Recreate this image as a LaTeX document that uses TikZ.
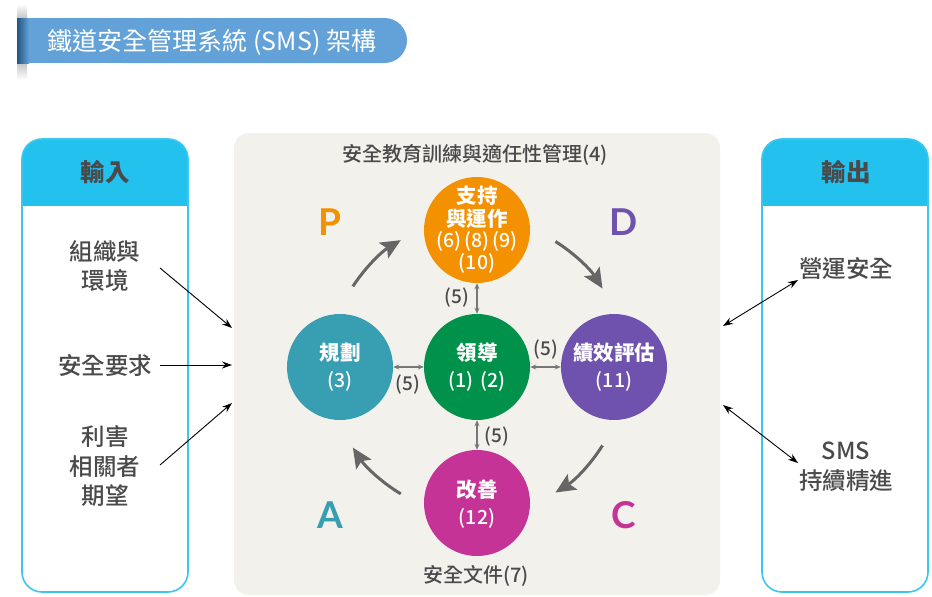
\documentclass[tikz,border=0pt]{standalone}
\usepackage{fontspec}
\setmainfont{Noto Sans CJK TC}
\newfontfamily\cjkmed{Noto Sans CJK TC Medium}
\newfontfamily\latinbold{Lato}
\usetikzlibrary{arrows.meta,calc}
\definecolor{txtgray}{HTML}{4A4A4A}
\definecolor{titleblue}{HTML}{62A2D9}
\definecolor{shadowblue}{HTML}{24557F}
\definecolor{hdrcyan}{HTML}{22C1EE}
\definecolor{brdcyan}{HTML}{3CC6EE}
\definecolor{panelgray}{HTML}{F2F1EC}
\definecolor{corange}{HTML}{F39100}
\definecolor{cteal}{HTML}{389EB2}
\definecolor{cgreen}{HTML}{00924A}
\definecolor{cpurple}{HTML}{6F52AD}
\definecolor{cmagenta}{HTML}{C53397}
\definecolor{arrgray}{HTML}{666666}
\definecolor{smallgray}{HTML}{777777}
\tikzset{
  circ/.style={circle,minimum size=106pt,inner sep=0pt},
  circtxt/.style={text=white,font=\bfseries\fontsize{20.5}{22}\selectfont,inner sep=0pt},
  circnum/.style={text=white,font=\cjkmed\fontsize{19.5}{22}\selectfont,inner sep=0pt},
  lbl/.style={text=txtgray,font=\cjkmed\fontsize{23.5}{29.5}\selectfont,align=center,inner sep=0pt},
  hdr/.style={text=txtgray,font=\bfseries\fontsize{24.5}{26}\selectfont,inner sep=0pt},
  five/.style={text=txtgray,font=\cjkmed\fontsize{19}{20}\selectfont,inner sep=0pt},
  pdca/.style={font=\latinbold\bfseries\fontsize{37}{37}\selectfont,inner sep=0pt},
  bigarr/.style={draw=arrgray,line width=3pt,-{Stealth[length=20pt,width=18pt,inset=4pt]}},
  smallarr/.style={draw=smallgray,line width=1.3pt,{Stealth[length=6pt,width=5pt]}-{Stealth[length=6pt,width=5pt]}},
  ioarr/.style={draw=black,line width=0.9pt,-{Stealth[length=10pt,width=7pt]}},
  ioarr2/.style={draw=black,line width=0.9pt,{Stealth[length=10pt,width=7pt]}-{Stealth[length=10pt,width=7pt]}}
}
\begin{document}
\begin{tikzpicture}[x=1pt,y=-1pt]
\useasboundingbox (0,0) rectangle (932,597);
\fill[white] (0,0) rectangle (932,597);

% title banner
\shade[top color=white,bottom color=gray!45] (17,4) rectangle (27,18);
\shade[top color=gray!45,bottom color=white] (17,63) rectangle (27,80);
\fill[titleblue] (17,18) rectangle (200,63);
\fill[titleblue,rounded corners=22.5pt] (100,18) rectangle (407,63);
\shade[left color=shadowblue,right color=titleblue] (17,18) rectangle (29,63);
\node[text=white,font=\fontsize{25}{26}\selectfont,inner sep=0pt] (title) at (212,42) {鐵道安全管理系統 (SMS) 架構};

% central panel
\node[fill=panelgray,rounded corners=15pt,minimum width=486pt,minimum height=462pt,inner sep=0pt] (panel) at (477,364) {};
\node[text=txtgray,font=\cjkmed\fontsize{20}{22}\selectfont,inner sep=0pt] (train) at (475,155) {安全教育訓練與適任性管理(4)};
\node[text=txtgray,font=\cjkmed\fontsize{20}{22}\selectfont,inner sep=0pt] (docs) at (476,576) {安全文件(7)};

% circles
\node[circ,fill=corange] (sup) at (477,230) {};
\node[circ,fill=cteal] (plan) at (340,367) {};
\node[circ,fill=cgreen] (lead) at (477,367) {};
\node[circ,fill=cpurple] (perf) at (614,367) {};
\node[circ,fill=cmagenta] (imp) at (477,503) {};

\node[circtxt] (supa) at (477,196) {支持};
\node[circtxt] (supb) at (477,219) {與運作};
\node[circnum] (supc) at (477,241) {(6)\,(8)\,(9)};
\node[circnum] (supd) at (477,263) {(10)};
\node[circtxt] (plana) at (340,353) {規劃};
\node[circnum] (planb) at (340,381) {(3)};
\node[circtxt] (leada) at (477,353) {領導};
\node[circnum] (leadb) at (477,381) {(1)\,\,(2)};
\node[circtxt] (perfa) at (614,353) {績效評估};
\node[circnum] (perfb) at (614,381) {(11)};
\node[circtxt] (impa) at (477,490) {改善};
\node[circnum] (impb) at (477,518) {(12)};

% small (5) arrows
\draw[smallarr] (sup.south) -- (lead.north);
\draw[smallarr] (plan.east) -- (lead.west);
\draw[smallarr] (lead.east) -- (perf.west);
\draw[smallarr] (lead.south) -- (imp.north);
\node[five] (f1) at (457,298) {(5)};
\node[five] (f2) at (408,385) {(5)};
\node[five] (f3) at (546,350) {(5)};
\node[five] (f4) at (497,437) {(5)};

% PDCA curved arrows
\coordinate (cc) at (477,367);
\draw[bigarr] ([shift={(-147:148)}]cc) arc[start angle=-147,end angle=-121,radius=148];
\draw[bigarr] ([shift={(-58:148)}]cc) arc[start angle=-58,end angle=-32,radius=148];
\draw[bigarr] ([shift={(32:148)}]cc) arc[start angle=32,end angle=58,radius=148];
\draw[bigarr] ([shift={(121:148)}]cc) arc[start angle=121,end angle=147,radius=148];

\node[pdca,text=corange] (P) at (330,222) {P};
\node[pdca,text=cpurple] (D) at (624,222) {D};
\node[pdca,text=cteal] (A) at (330,515) {A};
\node[pdca,text=cmagenta] (C) at (624,515) {C};

% input box
\begin{scope}
\clip[rounded corners=20pt] (22,139) rectangle (188,592);
\fill[white] (22,139) rectangle (188,592);
\fill[hdrcyan] (22,139) rectangle (188,206);
\end{scope}
\draw[brdcyan,line width=1.6pt,rounded corners=20pt] (22,139) rectangle (188,592);
\node[hdr] (inhdr) at (105,172) {輸入};
\node[lbl] (in1) at (105,266) {組織與\\環境};
\node[lbl] (in2) at (105,365) {安全要求};
\node[lbl] (in3) at (105,466) {利害\\相關者\\期望};

% output box
\begin{scope}
\clip[rounded corners=20pt] (762,139) rectangle (928,592);
\fill[white] (762,139) rectangle (928,592);
\fill[hdrcyan] (762,139) rectangle (928,206);
\end{scope}
\draw[brdcyan,line width=1.6pt,rounded corners=20pt] (762,139) rectangle (928,592);
\node[hdr] (outhdr) at (846,172) {輸出};
\node[lbl] (out1) at (846,268) {營運安全};
\node[lbl] (out2) at (846,467) {SMS\\持續精進};

% input / output arrows
\coordinate (i1s) at (160,268); \coordinate (i1e) at (232,328);
\coordinate (i2s) at (160,365); \coordinate (i2e) at (232,365);
\coordinate (i3s) at (160,465); \coordinate (i3e) at (232,403);
\draw[ioarr] (i1s) -- (i1e);
\draw[ioarr] (i2s) -- (i2e);
\draw[ioarr] (i3s) -- (i3e);
\coordinate (o1s) at (723,326); \coordinate (o1e) at (798,280);
\coordinate (o2s) at (723,405); \coordinate (o2e) at (798,463);
\draw[ioarr2] (o1s) -- (o1e);
\draw[ioarr2] (o2s) -- (o2e);
\end{tikzpicture}
\end{document}
